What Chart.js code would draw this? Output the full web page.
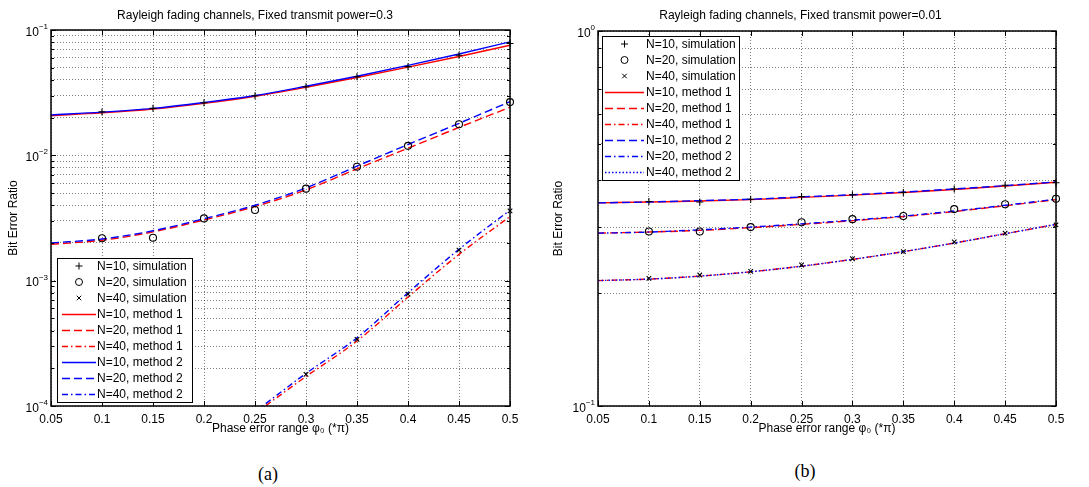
<!DOCTYPE html>
<html>
<head>
<meta charset="utf-8">
<script src="https://cdn.jsdelivr.net/npm/chart.js@4.4.1/dist/chart.umd.min.js"></script>
<style>
  body { margin: 0; background: #fff; width: 1089px; height: 487px; position: relative; overflow: hidden; }
  canvas { position: absolute; top: 0; }
  #chartA { left: 0; }
  #chartB { left: 545px; }
  .cap { position: absolute; font: 18px "Liberation Serif", "Times New Roman", serif; transform: translate(-50%, -50%); }
</style>
</head>
<body>
<canvas id="chartA" width="545" height="445"></canvas>
<canvas id="chartB" width="544" height="445"></canvas>
<div class="cap" style="left:268px; top:474px">(a)</div>
<div class="cap" style="left:805px; top:471px">(b)</div>
<script>
// x values (phase error range, *pi)
const phase = [0.05, 0.1, 0.15, 0.2, 0.25, 0.3, 0.35, 0.4, 0.45, 0.5];
const phaseSim = [0.1, 0.15, 0.2, 0.25, 0.3, 0.35, 0.4, 0.45, 0.5];
const phaseSimA40 = [0.3, 0.35, 0.4, 0.45, 0.5];
const xTickLabels = ["0.05", "0.1", "0.15", "0.2", "0.25", "0.3", "0.35", "0.4", "0.45", "0.5"];

// (a) fixed transmit power = 0.3
const simA10 = [0.0222, 0.0237, 0.0263, 0.0299, 0.0353, 0.0424, 0.051, 0.0628, 0.078];
const simA20 = [0.00218, 0.0022, 0.00314, 0.00366, 0.00542, 0.0081, 0.0119, 0.0177, 0.0266];
const simA40 = [0.000179, 0.00034, 0.00078, 0.00175, 0.00361];
const m1A10 = [0.0207, 0.0218, 0.0234, 0.026, 0.0296, 0.0349, 0.0418, 0.0505, 0.0615, 0.0755];
const m1A20 = [0.00195, 0.0021, 0.00245, 0.00305, 0.0039, 0.0053, 0.0078, 0.0114, 0.0167, 0.0242];
const m1A40 = [null, null, null, null, 0.000087, 0.000172, 0.00033, 0.00074, 0.00162, 0.00325];
const m2A10 = [0.021, 0.0221, 0.0237, 0.0264, 0.03, 0.0356, 0.0428, 0.0522, 0.0643, 0.0805];
const m2A20 = [0.002, 0.00215, 0.0025, 0.00312, 0.004, 0.0055, 0.0082, 0.0122, 0.018, 0.0268];
const m2A40 = [null, null, null, null, 0.00009, 0.000182, 0.00035, 0.0008, 0.00178, 0.00365];
const yDecadesA = [1e-4, 1e-3, 1e-2, 1e-1];
const yExpA = ["\u22124", "\u22123", "\u22122", "\u22121"];

// (b) fixed transmit power = 0.01
const simB10 = [0.351, 0.35, 0.356, 0.362, 0.366, 0.371, 0.379, 0.388, 0.394];
const simB20 = [0.292, 0.292, 0.3, 0.309, 0.315, 0.321, 0.335, 0.345, 0.357];
const simB40 = [0.219, 0.2235, 0.2286, 0.2377, 0.247, 0.258, 0.274, 0.289, 0.304];
const m1B10 = [0.348, 0.35, 0.352, 0.355, 0.36, 0.365, 0.371, 0.378, 0.386, 0.395];
const m1B20 = [0.289, 0.291, 0.294, 0.299, 0.305, 0.312, 0.32, 0.33, 0.342, 0.355];
const m1B40 = [0.216, 0.218, 0.222, 0.228, 0.236, 0.246, 0.258, 0.272, 0.288, 0.305];
const m2B10 = [0.348, 0.35, 0.353, 0.356, 0.361, 0.366, 0.372, 0.379, 0.387, 0.396];
const m2B20 = [0.289, 0.291, 0.295, 0.3, 0.306, 0.313, 0.321, 0.331, 0.343, 0.356];
const m2B40 = [0.216, 0.218, 0.222, 0.228, 0.236, 0.246, 0.258, 0.272, 0.288, 0.305];
const yDecadesB = [1e-1, 1e0];
const yExpB = ["\u22121", "0"];

const FONT = '"Liberation Sans", Arial, Helvetica, sans-serif';
const RED = "#ff0000", BLUE = "#0000ff";
const DASH = [8, 4], DASHDOT = [6, 3, 1.5, 3], DOT = [1.5, 2];

const pts = (xs, ys) => xs.map((x, i) => ({ x: x, y: ys[i] }));

// grid values at 1..9 x each decade
const logGrid = (decades) => {
  const out = [];
  decades.forEach((d, i) => {
    if (i === decades.length - 1) { out.push(d); return; }
    for (let m = 1; m <= 9; m++) out.push(+(m * d).toPrecision(3));
  });
  return out;
};

function sim(label, xs, ys, style, r) {
  return {
    label: label, data: pts(xs, ys), showLine: false, order: 0, clip: false,
    pointStyle: style, pointRadius: r, pointHoverRadius: r,
    pointBorderColor: "#000", pointBackgroundColor: "rgba(0,0,0,0)", pointBorderWidth: 1.1
  };
}
function curve(label, ys, color, dash, order) {
  return {
    label: label, data: pts(phase, ys), borderColor: color, borderWidth: 1.4,
    borderDash: dash, pointRadius: 0, cubicInterpolationMode: "monotone", order: order
  };
}

function drawMarker(ctx, style, x, y, r) {
  ctx.beginPath();
  if (style === "circle") {
    ctx.arc(x, y, r, 0, Math.PI * 2);
  } else if (style === "cross") {
    ctx.moveTo(x - r, y); ctx.lineTo(x + r, y);
    ctx.moveTo(x, y - r); ctx.lineTo(x, y + r);
  } else {
    const d = r * Math.SQRT1_2;
    ctx.moveTo(x - d, y - d); ctx.lineTo(x + d, y + d);
    ctx.moveTo(x - d, y + d); ctx.lineTo(x + d, y - d);
  }
  ctx.stroke();
}

// MATLAB-like frame, inner ticks, 10^n labels and boxed legend
const matlabAxes = {
  id: "matlabAxes",
  afterDraw(chart, args, opts) {
    const ctx = chart.ctx, ca = chart.chartArea;
    const xs = chart.scales.x, ys = chart.scales.y;
    ctx.save();
    ctx.strokeStyle = "#000";
    ctx.lineWidth = 1;
    ctx.setLineDash([]);
    ctx.beginPath();
    xs.ticks.forEach(t => {
      const px = Math.round(xs.getPixelForValue(t.value)) + 0.5;
      ctx.moveTo(px, ca.top); ctx.lineTo(px, ca.top + 5);
      ctx.moveTo(px, ca.bottom); ctx.lineTo(px, ca.bottom - 5);
    });
    ys.ticks.forEach(t => {
      const py = Math.round(ys.getPixelForValue(t.value)) + 0.5;
      const len = opts.decades.includes(t.value) ? 5 : 3;
      ctx.moveTo(ca.left, py); ctx.lineTo(ca.left + len, py);
      ctx.moveTo(ca.right, py); ctx.lineTo(ca.right - len, py);
    });
    ctx.stroke();
    ctx.lineWidth = 1.5;
    ctx.strokeRect(ca.left, ca.top, ca.right - ca.left, ca.bottom - ca.top);

    // y labels 10^n
    ctx.fillStyle = "#000";
    ctx.textBaseline = "alphabetic";
    opts.decades.forEach((d, i) => {
      const py = ys.getPixelForValue(d);
      ctx.font = "8px " + FONT;
      ctx.textAlign = "right";
      const ex = opts.exps[i];
      const ew = ctx.measureText(ex).width;
      const xr = ca.left - 3;
      ctx.fillText(ex, xr, py - 1);
      ctx.font = "12px " + FONT;
      ctx.fillText("10", xr - ew, py + 5.5);
    });

    // legend
    const lg = opts.legend;
    const dsets = chart.data.datasets;
    const h = dsets.length * lg.row;
    const left = ca.left + lg.dx;
    const top = lg.bottom ? ca.bottom - lg.dy - h : ca.top + lg.dy;
    ctx.fillStyle = "#fff";
    ctx.fillRect(left, top, lg.width, h);
    ctx.lineWidth = 1;
    ctx.strokeStyle = "#000";
    ctx.strokeRect(left + 0.5, top + 0.5, lg.width, h);
    ctx.font = "12px " + FONT;
    ctx.textAlign = "left";
    ctx.textBaseline = "middle";
    dsets.forEach((ds, i) => {
      const cy = top + lg.row * (i + 0.5);
      if (ds.showLine === false) {
        ctx.strokeStyle = "#000";
        ctx.lineWidth = 1;
        ctx.setLineDash([]);
        drawMarker(ctx, ds.pointStyle, left + (lg.line[0] + lg.line[1]) / 2, cy, ds.pointRadius);
      } else {
        ctx.strokeStyle = ds.borderColor;
        ctx.lineWidth = ds.borderWidth;
        ctx.setLineDash(ds.borderDash || []);
        ctx.beginPath();
        ctx.moveTo(left + lg.line[0], Math.round(cy) + 0.5);
        ctx.lineTo(left + lg.line[1], Math.round(cy) + 0.5);
        ctx.stroke();
      }
      ctx.setLineDash([]);
      ctx.fillStyle = "#000";
      ctx.fillText(ds.label, left + lg.textX, cy + 0.5);
    });
    ctx.restore();
  }
};

function makeChart(id, cfg) {
  return new Chart(document.getElementById(id), {
    type: "line",
    data: { datasets: cfg.datasets },
    plugins: [matlabAxes],
    options: {
      responsive: false,
      animation: false,
      layout: { padding: { left: 0, right: cfg.padRight, top: 0, bottom: 0 } },
      scales: {
        x: {
          type: "linear", min: 0.05, max: 0.5,
          afterBuildTicks: s => { s.ticks = phase.map(v => ({ value: v })); },
          afterFit: s => { s.height = 39; },
          ticks: {
            color: "#000", padding: 6, maxRotation: 0, autoSkip: false,
            font: { family: FONT, size: 12 },
            callback: (v, i) => xTickLabels[i]
          },
          grid: { color: "rgba(0,0,0,0.5)", lineWidth: 1, drawTicks: false },
          border: { display: false, dash: [1, 2] },
          title: {
            display: true, text: "Phase error range \u03c6\u2080 (*\u03c0)", color: "#000",
            font: { family: FONT, size: 12 }, padding: { top: 0, bottom: 9 }
          }
        },
        y: {
          type: "logarithmic", min: cfg.yMin, max: cfg.yMax,
          afterBuildTicks: s => { s.ticks = logGrid(cfg.decades).map(v => ({ value: v })); },
          afterFit: s => { s.width = cfg.yWidth; },
          ticks: { display: false },
          grid: { color: "rgba(0,0,0,0.5)", lineWidth: 1, drawTicks: false },
          border: { display: false, dash: [1, 2] },
          title: {
            display: true, text: "Bit Error Ratio", color: "#000",
            font: { family: FONT, size: 12 }, padding: { top: 6, bottom: 0 }
          }
        }
      },
      plugins: {
        legend: { display: false },
        tooltip: { enabled: false },
        title: {
          display: true, text: cfg.title, color: "#000",
          font: { family: FONT, size: 12, weight: "normal" },
          padding: { top: 8, bottom: cfg.titleBottom }
        },
        matlabAxes: { decades: cfg.decades, exps: cfg.exps, legend: cfg.legend }
      }
    }
  });
}

makeChart("chartA", {
  title: "Rayleigh fading channels, Fixed transmit power=0.3",
  titleBottom: 7.6, padRight: 35, yWidth: 51,
  yMin: 1e-4, yMax: 1e-1, decades: yDecadesA, exps: yExpA,
  legend: { bottom: true, dx: 6, dy: 4, width: 135, row: 16, line: [5, 39], textX: 40 },
  datasets: [
    sim("N=10, simulation", phaseSim, simA10, "cross", 3.5),
    sim("N=20, simulation", phaseSim, simA20, "circle", 3.5),
    sim("N=40, simulation", phaseSimA40, simA40, "crossRot", 3.2),
    curve("N=10, method 1", m1A10, RED, [], 2),
    curve("N=20, method 1", m1A20, RED, DASH, 2),
    curve("N=40, method 1", m1A40, RED, DASHDOT, 2),
    curve("N=10, method 2", m2A10, BLUE, [], 1),
    curve("N=20, method 2", m2A20, BLUE, DASH, 1),
    curve("N=40, method 2", m2A40, BLUE, DASHDOT, 1)
  ]
});

makeChart("chartB", {
  title: "Rayleigh fading channels, Fixed transmit power=0.01",
  titleBottom: 8.6, padRight: 33, yWidth: 53,
  yMin: 0.1, yMax: 1, decades: yDecadesB, exps: yExpB,
  legend: { bottom: false, dx: 4, dy: 5, width: 137, row: 16, line: [3, 42], textX: 44 },
  datasets: [
    sim("N=10, simulation", phaseSim, simB10, "cross", 3.5),
    sim("N=20, simulation", phaseSim, simB20, "circle", 3.5),
    sim("N=40, simulation", phaseSim, simB40, "crossRot", 3.2),
    curve("N=10, method 1", m1B10, RED, [], 2),
    curve("N=20, method 1", m1B20, RED, DASH, 2),
    curve("N=40, method 1", m1B40, RED, DASHDOT, 2),
    curve("N=10, method 2", m2B10, BLUE, DASH, 1),
    curve("N=20, method 2", m2B20, BLUE, DASHDOT, 1),
    curve("N=40, method 2", m2B40, BLUE, DOT, 1)
  ]
});
</script>
</body>
</html>
